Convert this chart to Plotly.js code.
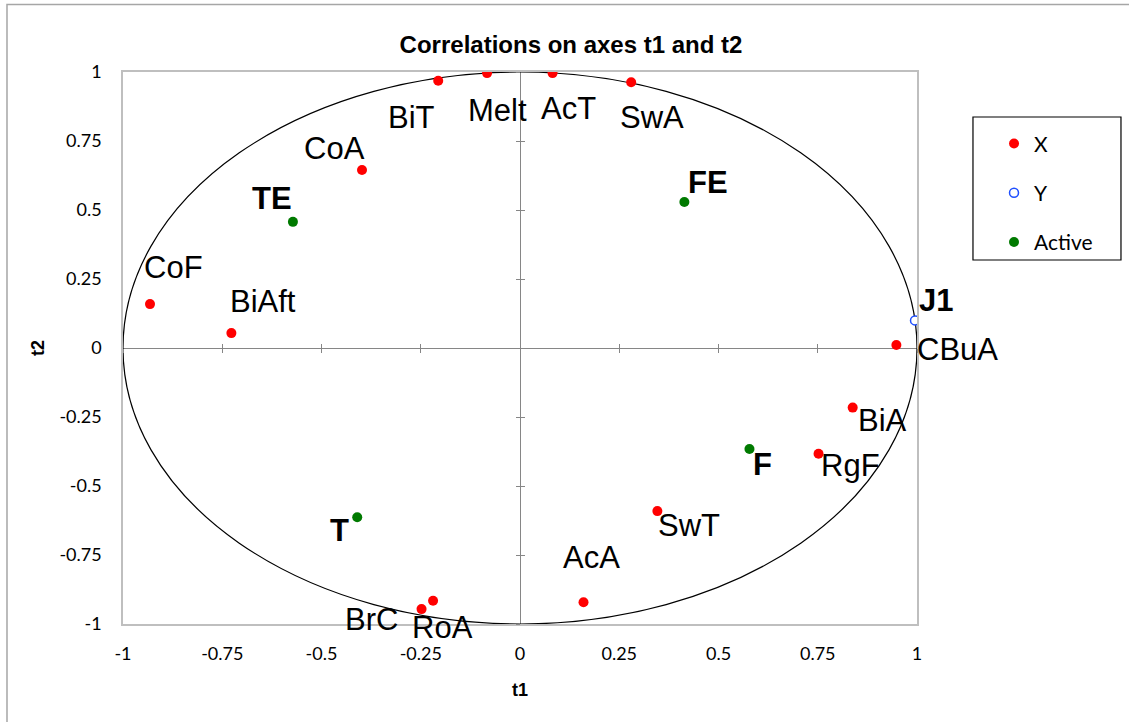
<!DOCTYPE html>
<html>
<head>
<meta charset="utf-8">
<script src="https://cdn.plot.ly/plotly-3.0.1.min.js"></script>
<style>
  html, body { margin: 0; padding: 0; background: #ffffff; }
  #chart { width: 1129px; height: 722px; }
</style>
</head>
<body>
<div id="chart"></div>
<script>
// Correlation circle: variables projected on axes t1 and t2
const xNames = ['CoF', 'BiAft', 'CoA', 'BiT', 'Melt', 'AcT', 'SwA', 'CBuA', 'BiA', 'RgF', 'SwT', 'AcA', 'BrC', 'RoA'];
const xT1 = [-0.932, -0.727, -0.398, -0.206, -0.083, 0.082, 0.280, 0.948, 0.838, 0.752, 0.346, 0.160, -0.248, -0.219];
const xT2 = [0.159, 0.054, 0.645, 0.968, 0.996, 0.996, 0.963, 0.011, -0.216, -0.383, -0.591, -0.921, -0.946, -0.916];

const yNames = ['J1'];
const yT1 = [0.995];
const yT2 = [0.100];

const activeNames = ['TE', 'FE', 'F', 'T'];
const activeT1 = [-0.572, 0.414, 0.578, -0.410];
const activeT2 = [0.457, 0.529, -0.366, -0.613];

const tickValues = [-1, -0.75, -0.5, -0.25, 0, 0.25, 0.5, 0.75, 1];
const tickLabels = ['-1', '-0.75', '-0.5', '-0.25', '0', '0.25', '0.5', '0.75', '1'];

// label offsets in pixels (dx, dy) for each point name
const labelOffsets = {
  CoF: [23, 37], BiAft: [32, 32], CoA: [-27, 21], BiT: [-27, -37], Melt: [10, -37],
  AcT: [16, -35], SwA: [21, -35], CBuA: [61, -5], BiA: [30, -13], RgF: [32, -12],
  SwT: [32, -14], AcA: [8, 45], BrC: [-50, -10], RoA: [9, -27],
  J1: [21, 20], TE: [-21, 23], FE: [24, 20], F: [13, -15], T: [-18, -13]
};

const sansFont = 'Liberation Sans, Arial, sans-serif';
const tickFont = 'Lato, Carlito, Calibri, sans-serif';

const traces = [
  {
    type: 'scatter', mode: 'markers', name: 'X', legendgroup: 'gx',
    x: xT1, y: xT2, text: xNames,
    marker: { color: '#ff0000', size: 10 },
    hoverinfo: 'text+x+y'
  },
  {
    type: 'scatter', mode: 'markers', name: 'Y', legendgroup: 'gy',
    x: yT1, y: yT2, text: yNames,
    marker: { color: '#ffffff', size: 9, line: { color: '#1f4fff', width: 1.5 } },
    hoverinfo: 'text+x+y'
  },
  {
    type: 'scatter', mode: 'markers', name: 'Active', legendgroup: 'ga',
    x: activeT1, y: activeT2, text: activeNames,
    marker: { color: '#007a00', size: 10 },
    hoverinfo: 'text+x+y'
  },
  // empty traces that carry the tick marks on the centre axes
  { type: 'scatter', x: [], y: [], xaxis: 'x2', yaxis: 'y2', showlegend: false, hoverinfo: 'skip' },
  { type: 'scatter', x: [], y: [], xaxis: 'x3', yaxis: 'y3', showlegend: false, hoverinfo: 'skip' }
];

function makeLabels(names, xs, ys, bold) {
  return names.map((n, i) => ({
    x: xs[i], y: ys[i], xref: 'x', yref: 'y',
    text: bold ? '<b>' + n + '</b>' : n,
    showarrow: false,
    xshift: labelOffsets[n][0], yshift: labelOffsets[n][1],
    font: { family: sansFont, size: 31, color: '#000000' }
  }));
}

const annotations = []
  .concat(makeLabels(xNames, xT1, xT2, false))
  .concat(makeLabels(yNames, yT1, yT2, true))
  .concat(makeLabels(activeNames, activeT1, activeT2, true));

const centreTicks = (kind) => ({
  range: [-1, 1], tickvals: tickValues, showticklabels: false,
  ticks: kind, ticklen: 4, tickwidth: 1, tickcolor: '#868686',
  showgrid: false, zeroline: false, showline: false,
  anchor: 'free', position: 0.5, fixedrange: true
});

const layout = {
  width: 1129, height: 722,
  margin: { l: 123, r: 212, t: 72, b: 98 },
  paper_bgcolor: '#ffffff', plot_bgcolor: '#ffffff',
  title: {
    text: '<b>Correlations on axes t1 and t2</b>',
    x: 571 / 1129, xref: 'container', xanchor: 'center',
    y: 1 - 45 / 722, yref: 'container', yanchor: 'middle',
    font: { family: sansFont, size: 24, color: '#000000' }
  },
  xaxis: {
    range: [-1, 1], tickvals: tickValues, ticktext: tickLabels,
    ticks: '', ticklabelstandoff: 13,
    showgrid: false, zeroline: true, zerolinecolor: '#868686', zerolinewidth: 1,
    showline: true, mirror: true, linecolor: '#bfbfbf', linewidth: 1.5,
    tickfont: { family: tickFont, size: 18, color: '#000000' },
    title: { text: '<b>t1</b>', standoff: 20, font: { family: sansFont, size: 18, color: '#000000' } },
    fixedrange: true
  },
  yaxis: {
    range: [-1, 1], tickvals: tickValues, ticktext: tickLabels,
    ticks: '', ticklabelstandoff: 16,
    showgrid: false, zeroline: true, zerolinecolor: '#868686', zerolinewidth: 1,
    showline: true, mirror: true, linecolor: '#bfbfbf', linewidth: 1.5,
    tickfont: { family: tickFont, size: 18, color: '#000000' },
    title: { text: '<b>t2</b>', standoff: 10, font: { family: sansFont, size: 18, color: '#000000' } },
    fixedrange: true
  },
  xaxis2: Object.assign({ overlaying: 'x' }, centreTicks('outside')),
  yaxis2: Object.assign({ overlaying: 'y' }, centreTicks('outside')),
  xaxis3: Object.assign({ overlaying: 'x' }, centreTicks('inside')),
  yaxis3: Object.assign({ overlaying: 'y' }, centreTicks('inside')),
  showlegend: true,
  legend: {
    x: 1.097, xanchor: 'left', y: 0.907, yanchor: 'top',
    bgcolor: 'rgba(0,0,0,0)', borderwidth: 0,
    traceorder: 'grouped', tracegroupgap: 19,
    itemwidth: 30,
    font: { family: tickFont, size: 21, color: '#000000' }
  },
  shapes: [
    // unit correlation circle
    { type: 'circle', xref: 'x', yref: 'y', x0: -1, x1: 1, y0: -1, y1: 1,
      line: { color: '#000000', width: 1.2 }, layer: 'between' },
    // chart border
    { type: 'rect', xref: 'paper', yref: 'paper', x0: -0.1461, x1: 1.35, y0: -0.35, y1: 1.1223,
      line: { color: '#a6a6a6', width: 1.5 }, fillcolor: 'rgba(0,0,0,0)', layer: 'above' },
    // legend frame
    { type: 'rect', xref: 'paper', yref: 'paper', x0: 1.0705, x1: 1.2569, y0: 0.6594, y1: 0.9185,
      line: { color: '#000000', width: 1.2 }, fillcolor: 'rgba(0,0,0,0)', layer: 'above' }
  ],
  annotations: annotations,
  hovermode: 'closest'
};

Plotly.newPlot('chart', traces, layout, { displayModeBar: false });
</script>
</body>
</html>
